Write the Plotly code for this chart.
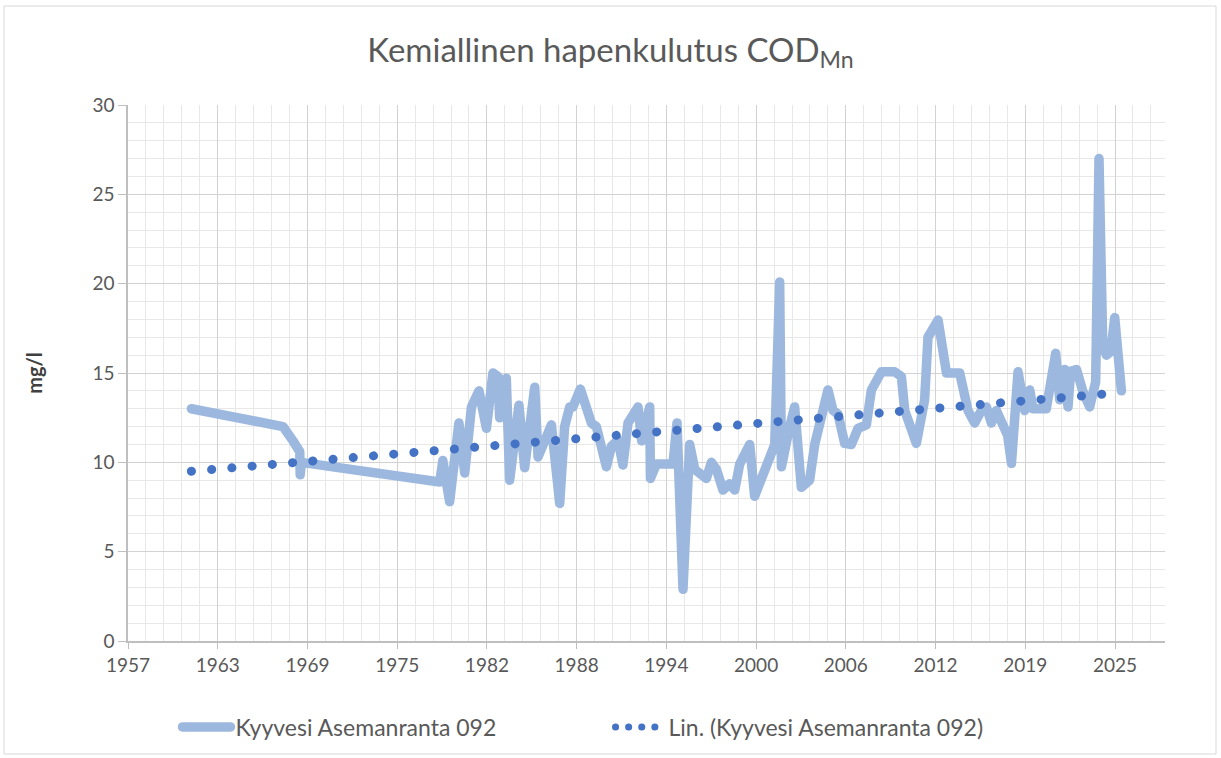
import plotly.graph_objects as go

# Kyyvesi Asemanranta 092, COD_Mn (mg/l)
sample_dates = [
    "1961-10-05", "1968-01-23", "1968-10-01", "1969-03-19", "1969-03-30", "1969-05-01",
    "1978-11-04", "1979-01-20", "1979-07-10", "1979-09-24", "1980-02-28", "1980-07-23",
    "1981-01-08", "1981-07-17", "1982-01-19", "1982-07-02", "1982-11-07", "1982-12-17",
    "1983-06-03", "1983-08-26", "1984-04-16", "1984-09-05", "1985-05-16", "1985-08-08",
    "1986-07-10", "1987-02-03", "1987-06-07", "1987-10-13", "1988-01-01", "1988-07-05",
    "1989-04-10", "1989-08-12", "1990-04-21", "1990-08-26", "1991-02-07", "1991-06-11",
    "1991-10-16", "1992-06-24", "1992-09-23", "1993-04-13", "1993-05-01", "1993-09-28",
    "1994-11-18", "1995-02-28", "1995-07-28", "1996-01-12", "1996-05-19", "1997-03-08",
    "1997-07-10", "1997-11-15", "1998-04-28", "1998-10-13", "1999-02-17", "1999-06-22",
    "2000-02-28", "2000-07-01", "2000-11-07", "2001-06-03", "2001-11-18", "2002-03-22",
    "2002-05-05", "2002-11-29", "2003-04-02", "2003-09-17", "2004-04-12", "2004-08-18",
    "2005-07-17", "2005-11-22", "2006-03-26", "2006-09-10", "2007-02-25", "2007-08-12",
    "2008-03-07", "2008-07-12", "2009-03-22", "2010-02-17", "2010-08-04", "2010-10-27",
    "2011-08-15", "2012-03-10", "2012-06-02", "2013-02-10", "2013-06-14", "2013-09-10",
    "2014-08-08", "2015-03-04", "2015-08-19", "2016-02-03", "2016-06-10", "2016-10-13",
    "2017-02-14", "2017-07-31", "2017-11-25", "2018-02-28", "2018-08-12", "2019-01-27",
    "2019-06-03", "2019-08-23", "2020-07-23", "2021-03-15", "2021-06-25", "2021-10-27",
    "2022-01-19", "2022-03-26", "2022-08-19", "2023-01-23", "2023-07-17", "2023-12-14",
    "2024-03-07", "2024-06-10", "2024-09-10", "2024-12-28", "2025-04-06", "2025-09-21",
]
cod_values = [
    13.0, 12.0, 11.2, 10.6, 9.3, 10.0,
    8.9, 10.1, 7.8, 9.5, 12.2, 9.4,
    13.1, 14.0, 11.9, 15.0, 14.8, 12.5,
    14.7, 9.0, 13.2, 9.7, 14.2, 10.3,
    12.1, 7.7, 12.0, 13.1, 13.1, 14.1,
    12.2, 12.0, 9.75, 10.9, 11.25, 9.85,
    12.2, 13.1, 11.2, 13.1, 9.1, 9.9,
    9.9, 12.2, 2.9, 11.0, 9.6, 9.1,
    10.0, 9.6, 8.45, 8.8, 8.45, 9.9,
    11.0, 8.1, 8.8, 10.1, 11.0, 20.1,
    9.75, 12.0, 13.1, 8.6, 9.0, 11.0,
    14.05, 12.9, 12.7, 11.06, 11.0, 11.9,
    12.1, 14.05, 15.07, 15.07, 14.8, 12.9,
    11.06, 13.5, 17.0, 17.96, 15.9, 15.0,
    15.0, 12.9, 12.2, 12.9, 13.1, 12.2,
    12.9, 12.2, 11.5, 9.94, 15.07, 12.9,
    14.05, 13.0, 13.0, 16.1, 13.5, 15.2,
    13.1, 15.1, 15.2, 14.0, 13.1, 14.5,
    27.0, 16.5, 16.0, 16.2, 18.1, 14.0,
]

# linear trendline end points (Excel "Lin.")
trend_dates = ["1961-10-05", "2025-09-21"]
trend_values = [9.5, 13.9]

series_name = "Kyyvesi Asemanranta 092"
trend_name = "Lin. (Kyyvesi Asemanranta 092)"

DAY_MS = 24 * 3600 * 1000
FONT = "Lato, 'Open Sans', sans-serif"
GREY = "#595959"

fig = go.Figure()
fig.add_trace(go.Scatter(
    x=sample_dates, y=cod_values, mode="lines", name=series_name,
    line=dict(color="#9DB8DE", width=9.5),
))
fig.add_trace(go.Scatter(
    x=trend_dates, y=trend_values, mode="lines", name=trend_name,
    line=dict(color="#4472C4", width=9, dash="0.1px,20.2px"),
))

fig.update_layout(
    width=1221, height=758,
    margin=dict(l=128, r=56, t=105, b=117),
    paper_bgcolor="white", plot_bgcolor="white",
    font=dict(family=FONT, color=GREY, size=19),
    title=dict(
        text="Kemiallinen hapenkulutus COD<sub>Mn</sub>",
        x=0.5, xref="container", xanchor="center",
        y=1 - 50 / 758, yref="container", yanchor="middle",
        font=dict(size=33, color=GREY, family=FONT),
    ),
    legend=dict(
        orientation="h", xref="container", x=0.5, xanchor="center",
        yref="container", y=1 - 727 / 758, yanchor="middle",
        font=dict(size=23, color=GREY), itemwidth=48,
        entrywidth=370, entrywidthmode="pixels",
    ),
    showlegend=True,
)

fig.update_xaxes(
    type="date", range=["1957-05-27", "2028-09-20"],
    tick0="1957-05-27", dtick=2254 * DAY_MS, tickformat="%Y",
    showgrid=True, gridcolor="#D2D2D2", gridwidth=1,
    minor=dict(tick0="1957-05-27", dtick=2254 * DAY_MS / 5, showgrid=True,
               gridcolor="#E8E8E8", gridwidth=1),
    showline=True, linecolor="#BFBFBF", linewidth=1.5,
    ticks="outside", ticklen=6, tickcolor="#BFBFBF",
    tickfont=dict(size=19, color=GREY), zeroline=False,
)
fig.update_yaxes(
    range=[0, 30], dtick=5, tick0=0,
    showgrid=True, gridcolor="#D2D2D2", gridwidth=1,
    minor=dict(dtick=1, showgrid=True, gridcolor="#E8E8E8", gridwidth=1),
    showline=True, linecolor="#BFBFBF", linewidth=1.5,
    ticks="outside", ticklen=8, tickcolor="#BFBFBF",
    tickfont=dict(size=19, color=GREY), zeroline=False,
    title=dict(text="<b>mg/l</b>", font=dict(size=20, color="#404040"), standoff=44),
)

# chart outline
fig.add_shape(type="rect", xref="paper", yref="paper",
              x0=(4 - 128) / 1037, x1=(1216 - 128) / 1037,
              y0=(641 - 754) / 536, y1=(641 - 6) / 536,
              line=dict(color="#D9D9D9", width=1))

# page without body margin; round line joins/caps like Excel; round dots for the trendline
post = """
document.body.style.margin = '0';
var gd = document.getElementById('{plot_id}');
gd.querySelectorAll('.scatterlayer path.js-line, .legend path.js-line').forEach(function(p){
    p.style.strokeLinejoin = 'round'; p.style.strokeLinecap = 'round';
});
var lg = gd.querySelectorAll('.legend .traces');
if (lg.length > 1) {
    lg[1].querySelectorAll('path.js-line').forEach(function(p){
        p.style.strokeDasharray = '0.1px,13px'; p.style.strokeWidth = '7px';
    });
}
"""

fig.write_html("out.html", post_script=post, config={"displayModeBar": False})
